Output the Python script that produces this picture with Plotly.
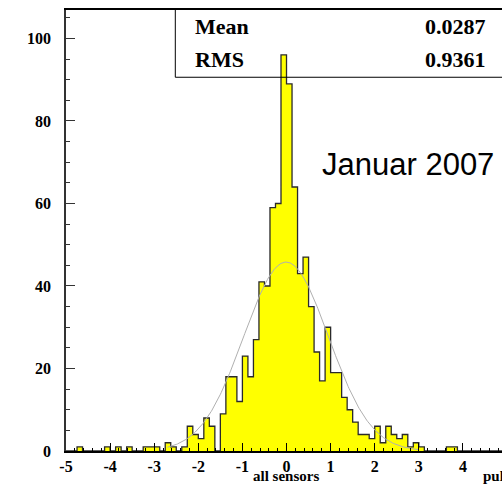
import numpy as np
import plotly.graph_objects as go

# ---- data ----
bin_start = -5.0
bin_width = 0.125
counts = [
    0, 0, 1, 0, 0, 0, 0, 1,        # -5.000 .. -4.125
    0, 1, 0, 1, 0, 0, 1, 1,        # -4.000 .. -3.125
    1, 0, 2, 1, 0, 1, 6, 4,        # -3.000 .. -2.125
    3, 8, 6, 0, 9, 18, 18, 12,     # -2.000 .. -1.125
    23, 18, 27, 41, 40, 59, 60, 96,  # -1.000 .. -0.125
    89, 64, 43, 47, 35, 24, 17, 30,  # 0.000 .. 0.875
    19, 19, 13, 10, 7, 4, 4, 3,    # 1.000 .. 1.875
    6, 2, 6, 4, 3, 4, 1, 2,        # 2.000 .. 2.875
    1, 0, 0, 0, 0, 1, 1, 0,        # 3.000 .. 3.875
    0, 0, 0, 0, 0, 0, 0, 0,        # 4.000 .. 4.875
]
x_ticks = [-5, -4, -3, -2, -1, 0, 1, 2, 3, 4]
y_ticks = [0, 20, 40, 60, 80, 100]
stat_names = ["Mean", "RMS"]
stat_values = ["0.0287", "0.9361"]
# gaussian fit parameters (constant, mean, sigma) and fit range
fit_const = 45.8
fit_mean = -0.01
fit_sigma = 0.96
fit_range = [-2.7, 3.0]

# ---- derived ----
n = len(counts)
edges = bin_start + bin_width * np.arange(n + 1)
centers = edges[:-1] + bin_width / 2
outline_x = np.concatenate([[edges[0]], edges])
outline_y = np.concatenate([[0], counts, [counts[-1]]])
fx = np.linspace(fit_range[0], fit_range[1], 300)
fy = fit_const * np.exp(-0.5 * ((fx - fit_mean) / fit_sigma) ** 2)

serif = "Liberation Serif"
fig = go.Figure()
fig.add_trace(go.Bar(x=centers, y=counts, width=bin_width,
                     marker=dict(color="#ffff00", line=dict(width=0)),
                     hoverinfo="skip", showlegend=False))
fig.add_trace(go.Scatter(x=outline_x, y=outline_y, mode="lines",
                         line=dict(shape="hv", color="#2a2a2a", width=1.3),
                         hoverinfo="skip", showlegend=False))
fig.add_trace(go.Scatter(x=fx, y=fy, mode="lines",
                         line=dict(color="#b0b0b0", width=1),
                         hoverinfo="skip", showlegend=False))

# stats box
box_left = 0.2507
box_bottom = 0.8475
fig.add_shape(type="line", xref="paper", yref="paper", x0=box_left, x1=box_left,
              y0=box_bottom, y1=1, line=dict(color="black", width=1), layer="above")
fig.add_shape(type="line", xref="paper", yref="paper", x0=box_left, x1=1,
              y0=box_bottom, y1=box_bottom, line=dict(color="black", width=1), layer="above")
for name, val, yy in zip(stat_names, stat_values, [0.962, 0.887]):
    fig.add_annotation(text=name, xref="paper", yref="paper", x=0.291, y=yy,
                       xanchor="left", yanchor="middle", showarrow=False,
                       font=dict(family=serif, size=22, color="black", weight="bold"))
    fig.add_annotation(text=val, xref="paper", yref="paper", x=0.9686, y=yy,
                       xanchor="right", yanchor="middle", showarrow=False,
                       font=dict(family=serif, size=22, color="black", weight="bold"))

fig.add_annotation(text="Januar 2007", xref="paper", yref="paper", x=0.582, y=0.65,
                   xanchor="left", yanchor="middle", showarrow=False,
                   font=dict(family="Liberation Sans", size=31, color="black"))
fig.add_annotation(text="all sensors", xref="paper", yref="paper", x=0.505, y=-0.0795,
                   xanchor="center", yanchor="bottom", showarrow=False,
                   font=dict(family=serif, size=15, color="black", weight="bold"))
fig.add_annotation(text="pul", xref="paper", yref="paper", x=0.952, y=-0.0795,
                   xanchor="left", yanchor="bottom", showarrow=False,
                   font=dict(family=serif, size=15, color="black", weight="bold"))

fig.update_layout(
    width=502, height=486,
    margin=dict(l=66, r=0, t=10, b=35),
    paper_bgcolor="white", plot_bgcolor="white",
    bargap=0,
    xaxis=dict(range=[-5, 4.886], tickvals=x_ticks, ticktext=[str(v) for v in x_ticks],
               ticks="inside", ticklen=8, tickwidth=1, tickcolor="black",
               minor=dict(dtick=0.2, ticks="inside", ticklen=3, tickcolor="black", tick0=0),
               showline=True, linecolor="black", linewidth=1.5, mirror=True,
               showgrid=False, zeroline=False, automargin=False,
               tickfont=dict(family=serif, size=16, color="black", weight="bold")),
    yaxis=dict(range=[0, 106.9], tickvals=y_ticks, ticktext=[str(v) for v in y_ticks],
               ticks="inside", ticklen=9, tickwidth=1, tickcolor="#333",
               minor=dict(dtick=5, ticks="inside", ticklen=4.5, tickcolor="#333", tick0=0),
               showline=True, linecolor="#333", linewidth=1.5,
               showgrid=False, zeroline=False, ticklabelstandoff=10, automargin=False,
               tickfont=dict(family=serif, size=16, color="black", weight="bold")),
)
fig.write_html("out.html", config={"displayModeBar": False},
               post_script="document.body.style.margin='0';document.body.style.overflow='hidden';")
